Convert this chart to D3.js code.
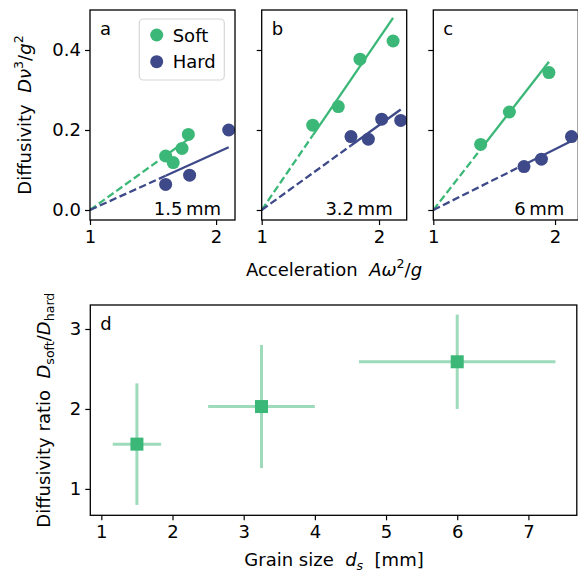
<!DOCTYPE html>
<html>
<head>
<meta charset="utf-8">
<script src="https://cdn.jsdelivr.net/npm/d3@7"></script>
<style>
  html, body { margin: 0; padding: 0; background: #fff; }
  svg { display: block; font-family: "DejaVu Sans", sans-serif; }
  text { white-space: pre; }
</style>
</head>
<body>
<svg id="fig" width="578" height="574"></svg>
<script>
// ---- data: diffusivity vs. acceleration, one panel per grain size ----
const panelLetters = ["a", "b", "c"];
const grainLabels = ["1.5\u2009mm", "3.2\u2009mm", "6\u2009mm"];
const accelMax = [2.15, 2.236, 2.191];

const softAccel = [[1.60, 1.66, 1.73, 1.78], [1.435, 1.653, 1.838, 2.12], [1.389, 1.625, 1.95]];
const softDiff  = [[0.135, 0.1185, 0.154, 0.189], [0.212, 0.2585, 0.377, 0.4225], [0.164, 0.245, 0.3435]];
const hardAccel = [[1.60, 1.79, 2.10], [1.761, 1.909, 2.023, 2.185], [1.745, 1.888, 2.135]];
const hardDiff  = [[0.064, 0.087, 0.20], [0.1835, 0.177, 0.227, 0.224], [0.1085, 0.127, 0.1835]];

// fitted slopes of D = k (A w^2/g - 1)
const softSlope = [0.227, 0.429, 0.39];
const hardSlope = [0.1425, 0.212, 0.152];

const diffTicks = [0, 0.2, 0.4];
const accelTicks = [1, 2];

// ---- data: diffusivity ratio vs. grain size ----
const grainSize = [1.5, 3.25, 6.0];
const grainErr  = [0.34, 0.75, 1.38];
const ratio     = [1.56, 2.03, 2.59];
const ratioErr  = [0.76, 0.77, 0.59];
const grainTicks = [1, 2, 3, 4, 5, 6, 7];
const ratioTicks = [1, 2, 3];

const seriesNames = ["Soft", "Hard"];
const seriesColors = ["#3bb877", "#3e4989"];

// ---- layout ----
const FS = 18;
const GAP = "\u00a0\u00a0";
const svg = d3.select("#fig");
const topY0 = 10, topY1 = 220, panelW = 145;
const panelLeft = [90, 261.7, 433.3];
const y = d3.scaleLinear().domain([-0.025, 0.5]).range([topY1, topY0]);

function styleAxis(g, showLabels) {
  g.select(".domain").remove();
  g.selectAll(".tick line").attr("stroke", "#000").attr("stroke-width", 1.2);
  g.selectAll(".tick text").attr("font-size", FS).attr("fill", "#000")
    .attr("font-family", "DejaVu Sans");
  if (!showLabels) g.selectAll(".tick text").remove();
}

panelLetters.forEach((letter, i) => {
  const x0 = panelLeft[i];
  const x = d3.scaleLinear().domain([1, accelMax[i]]).range([x0, x0 + panelW]);
  const g = svg.append("g");

  const clipId = "clip" + i;
  svg.append("clipPath").attr("id", clipId).append("rect")
    .attr("x", x0).attr("y", topY0).attr("width", panelW).attr("height", topY1 - topY0);

  // axes
  g.append("g").attr("transform", `translate(${x0},0)`)
    .call(d3.axisLeft(y).tickValues(diffTicks).tickFormat(d3.format(".1f")).tickSize(5).tickPadding(4))
    .call(a => styleAxis(a, i === 0));
  g.append("g").attr("transform", `translate(0,${topY1})`)
    .call(d3.axisBottom(x).tickValues(accelTicks).tickFormat(d3.format("d")).tickSize(5).tickPadding(5))
    .call(a => styleAxis(a, true));

  const plot = g.append("g").attr("clip-path", `url(#${clipId})`);

  const sets = [
    { xs: softAccel[i], ys: softDiff[i], k: softSlope[i], color: seriesColors[0] },
    { xs: hardAccel[i], ys: hardDiff[i], k: hardSlope[i], color: seriesColors[1] }
  ];
  // fit lines: dashed extrapolation to the origin, solid over the data range
  sets.forEach(s => {
    const lo = d3.min(s.xs), hi = d3.max(s.xs);
    plot.append("line")
      .attr("x1", x(1)).attr("y1", y(0))
      .attr("x2", x(lo)).attr("y2", y(s.k * (lo - 1)))
      .attr("stroke", s.color).attr("stroke-width", 2.3)
      .attr("stroke-dasharray", "7.4,3.4");
    plot.append("line")
      .attr("x1", x(lo)).attr("y1", y(s.k * (lo - 1)))
      .attr("x2", x(hi)).attr("y2", y(s.k * (hi - 1)))
      .attr("stroke", s.color).attr("stroke-width", 2.3);
  });
  sets.forEach(s => {
    plot.selectAll(null).data(d3.zip(s.xs, s.ys)).join("circle")
      .attr("cx", d => x(d[0])).attr("cy", d => y(d[1])).attr("r", 6.5)
      .attr("fill", s.color);
  });

  // frame
  g.append("rect").attr("x", x0).attr("y", topY0).attr("width", panelW).attr("height", topY1 - topY0)
    .attr("fill", "none").attr("stroke", "#000").attr("stroke-width", 1.3);

  g.append("text").attr("x", x0 + 10).attr("y", topY0 + 25).attr("font-size", FS).text(letter);
  g.append("text").attr("x", x0 + panelW - 14).attr("y", topY1 - 5).attr("font-size", FS)
    .attr("text-anchor", "end").text(grainLabels[i]);
});

// legend in panel a
const leg = svg.append("g");
leg.append("rect").attr("x", 139.3).attr("y", 19).attr("width", 85).attr("height", 61).attr("rx", 4)
  .attr("fill", "#fff").attr("fill-opacity", 0.8).attr("stroke", "#d6d6d6").attr("stroke-width", 1.2);
seriesNames.forEach((name, j) => {
  const cy = 35 + j * 26.7;
  leg.append("circle").attr("cx", 156.7).attr("cy", cy).attr("r", 6.5).attr("fill", seriesColors[j]);
  leg.append("text").attr("x", 172.7).attr("y", cy + 6.5).attr("font-size", FS).text(name);
});

// axis titles with inline math
function mathLabel(sel, parts) {
  parts.forEach(p => {
    const t = sel.append("tspan").text(p.t);
    if (p.i) t.attr("font-style", "italic");
    if (p.sup) t.attr("font-size", FS * 0.7).attr("dy", -0.42 * FS);
    if (p.sub) t.attr("font-size", FS * 0.7).attr("dy", 0.22 * FS);
    if (p.back) t.attr("dy", p.back);
  });
}
const yLab = svg.append("text").attr("font-size", FS).attr("text-anchor", "middle")
  .attr("transform", "translate(31,115) rotate(-90)");
mathLabel(yLab, [
  { t: "Diffusivity" + GAP }, { t: "D\u03bd", i: true }, { t: "3", sup: true },
  { t: "/", back: 0.42 * FS }, { t: "g", i: true }, { t: "2", sup: true }
]);
const xLab = svg.append("text").attr("font-size", FS).attr("text-anchor", "middle")
  .attr("transform", "translate(334,276)");
mathLabel(xLab, [
  { t: "Acceleration" + GAP }, { t: "A\u03c9", i: true }, { t: "2", sup: true },
  { t: "/", back: 0.42 * FS }, { t: "g", i: true }
]);

// ---- panel d ----
const dL = 90.3, dR = 576.8, dT = 305, dB = 515.3;
const xd = d3.scaleLinear().domain([0.845, 7.68]).range([dL, dR]);
const yd = d3.scaleLinear().domain([0.67, 3.30]).range([dB, dT]);
const gd = svg.append("g");
gd.append("g").attr("transform", `translate(${dL},0)`)
  .call(d3.axisLeft(yd).tickValues(ratioTicks).tickFormat(d3.format("d")).tickSize(5).tickPadding(4))
  .call(a => styleAxis(a, true));
gd.append("g").attr("transform", `translate(0,${dB})`)
  .call(d3.axisBottom(xd).tickValues(grainTicks).tickFormat(d3.format("d")).tickSize(5).tickPadding(5))
  .call(a => styleAxis(a, true));

const pts = d3.range(grainSize.length).map(i => ({
  x: grainSize[i], xe: grainErr[i], y: ratio[i], ye: ratioErr[i]
}));
gd.selectAll(".xerr").data(pts).join("line")
  .attr("x1", d => xd(d.x - d.xe)).attr("x2", d => xd(d.x + d.xe))
  .attr("y1", d => yd(d.y)).attr("y2", d => yd(d.y))
  .attr("stroke", seriesColors[0]).attr("stroke-opacity", 0.5).attr("stroke-width", 3);
gd.selectAll(".yerr").data(pts).join("line")
  .attr("x1", d => xd(d.x)).attr("x2", d => xd(d.x))
  .attr("y1", d => yd(d.y - d.ye)).attr("y2", d => yd(d.y + d.ye))
  .attr("stroke", seriesColors[0]).attr("stroke-opacity", 0.5).attr("stroke-width", 3);
gd.selectAll(".sq").data(pts).join("rect")
  .attr("x", d => xd(d.x) - 6.5).attr("y", d => yd(d.y) - 6.5)
  .attr("width", 13).attr("height", 13).attr("fill", seriesColors[0]);

gd.append("rect").attr("x", dL).attr("y", dT).attr("width", dR - dL).attr("height", dB - dT)
  .attr("fill", "none").attr("stroke", "#000").attr("stroke-width", 1.3);
gd.append("text").attr("x", dL + 10).attr("y", dT + 25).attr("font-size", FS).text("d");

const ydLab = svg.append("text").attr("font-size", FS).attr("text-anchor", "middle")
  .attr("transform", `translate(50,${(dT + dB) / 2}) rotate(-90)`);
mathLabel(ydLab, [
  { t: "Diffusivity ratio" + GAP }, { t: "D", i: true }, { t: "soft", sub: true },
  { t: "/", back: -0.22 * FS }, { t: "D", i: true }, { t: "hard", sub: true }
]);
const xdLab = svg.append("text").attr("font-size", FS).attr("text-anchor", "middle")
  .attr("transform", "translate(334,566)");
mathLabel(xdLab, [
  { t: "Grain size" + GAP }, { t: "d", i: true }, { t: "s", sub: true, i: true },
  { t: GAP + "[mm]", back: -0.22 * FS }
]);
</script>
</body>
</html>
